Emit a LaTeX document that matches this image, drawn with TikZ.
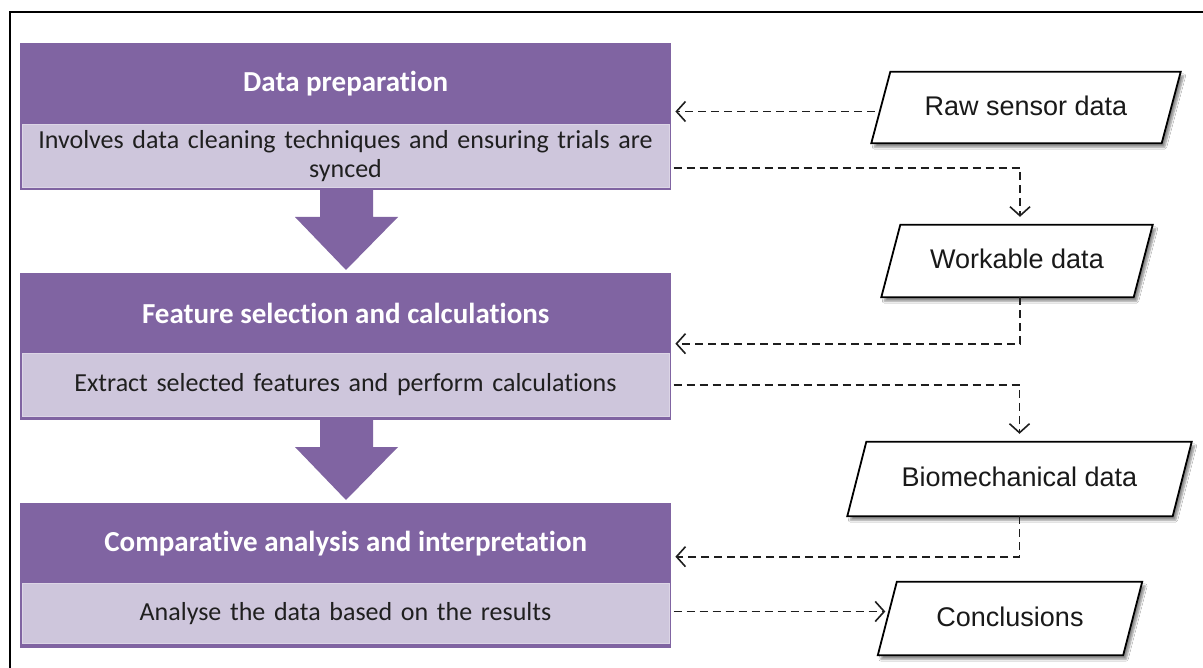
\documentclass[tikz,border=0pt]{standalone}
\usepackage{fontspec}
\setmainfont{Carlito}[Ligatures={NoCommon}]
\newfontfamily\arialf{Liberation Sans}
\usetikzlibrary{arrows.meta,shadows.blur,calc}
\definecolor{purp}{HTML}{8064A2}
\definecolor{lilac}{HTML}{CEC6DC}
\definecolor{lilacedge}{HTML}{DCD5E6}
\definecolor{linegray}{HTML}{1E1E1E}
\begin{document}
\begin{tikzpicture}[x=1pt,y=-1pt,
  bgbox/.style={fill=purp, draw=none, inner sep=0pt, minimum width=651pt, anchor=north west},
  headbox/.style={fill=purp, draw=none, inner sep=0pt, minimum width=651pt, minimum height=81pt, anchor=north west, text=white, font=\fontsize{29}{33}\selectfont\bfseries},
  subbox/.style={fill=lilac, draw=lilacedge, line width=1pt, minimum width=647pt, text width=640pt, align=center, font=\fontsize{26}{29}\selectfont, text=black!88, inner sep=0pt},
  datafield/.style={draw=none, fill=none, inner sep=0pt},
  datatext/.style={font=\arialf\fontsize{27}{31}\selectfont, text=black!90, inner sep=0pt},
  parashape/.style={draw=black, line width=1.8pt, fill=white, line join=miter, blur shadow={shadow xshift=3pt, shadow yshift=-4pt, shadow blur steps=6, shadow opacity=45}},
  flow/.style={draw=linegray, line width=1.9pt, dash pattern=on 8pt off 5pt, -{Straight Barb[length=9pt,width=20pt,line width=1.6pt]}},
  blockarrow/.style={fill=purp, draw=none}
]
\useasboundingbox (0,0) rectangle (1203,668);
\fill[white] (0,0) rectangle (1203,668);
\draw[line width=2pt] (10,668) -- (10,12) -- (1203,12);

% box 1
\node[bgbox, minimum height=147pt] (bg1) at (20,43) {};
\node[headbox] (h1) at (20,43) {Data preparation};
\node[subbox, minimum height=63pt] (s1) at (345.5,156) {Involves data cleaning techniques and ensuring trials are\\synced};
% box 2
\node[bgbox, minimum height=147pt] (bg2) at (20,273) {};
\node[headbox] (h2) at (20,273) {Feature selection and calculations};
\node[subbox, minimum height=63pt] (s2) at (345.5,385) {Extract selected features and perform calculations};
% box 3
\node[bgbox, minimum height=145pt] (bg3) at (20,503) {};
\node[headbox] (h3) at (20,503) {Comparative analysis and interpretation};
\node[subbox, minimum height=60pt] (s3) at (345.5,613.5) {Analyse the data based on the results};

% block arrows
\fill[blockarrow] (320,189) -- (373,189) -- (373,217) -- (398,217) -- (346,270) -- (295,217) -- (320,217) -- cycle;
\fill[blockarrow] (320,419) -- (373,419) -- (373,447) -- (398,447) -- (346,500) -- (295,447) -- (320,447) -- cycle;

% data fields (parallelograms)
\node[datafield, minimum width=290pt, minimum height=71pt] (raw) at (1026,107.5) {};
\node[datafield, minimum width=252pt, minimum height=72pt] (work) at (1017,261) {};
\node[datafield, minimum width=325pt, minimum height=74pt] (bio) at (1019.5,479) {};
\node[datafield, minimum width=245pt, minimum height=73pt] (conc) at (1010,618.5) {};
\foreach \n in {raw,work,bio,conc}{
  \draw[parashape] ([xshift=9.5pt]\n.north west) -- ([xshift=9.5pt]\n.north east) -- ([xshift=-9.5pt]\n.south east) -- ([xshift=-9.5pt]\n.south west) -- cycle;
}
\node[datatext] (rawt) at ([yshift=2pt]raw.center) {Raw sensor data};
\node[datatext] (workt) at ([yshift=2pt]work.center) {Workable data};
\node[datatext] (biot) at ([yshift=2pt]bio.center) {Biomechanical data};
\node[datatext] (conct) at ([yshift=2pt]conc.center) {Conclusions};

% connectors
\draw[flow, shorten <=6pt, shorten >=4pt] ([yshift=-4pt]raw.west) -- ([yshift=-4pt]raw.west -| h1.east);
\draw[flow, shorten <=4pt, shorten >=8pt] ([yshift=-12pt]s1.east) -| ([xshift=3pt]work.north);
\draw[flow, shorten >=4pt] ([xshift=3pt]work.south) |- ([yshift=-30pt]h2.east);
\draw[flow, shorten <=4pt, shorten >=8pt] (s2.east) -| (bio.north);
\draw[flow, shorten >=4pt] (bio.south) |- ([yshift=-13pt]h3.east);
\draw[flow, shorten <=4pt, shorten >=2pt] ([yshift=2pt]s3.east) -- ([yshift=2pt]s3.east -| conc.west);
\end{tikzpicture}
\end{document}
